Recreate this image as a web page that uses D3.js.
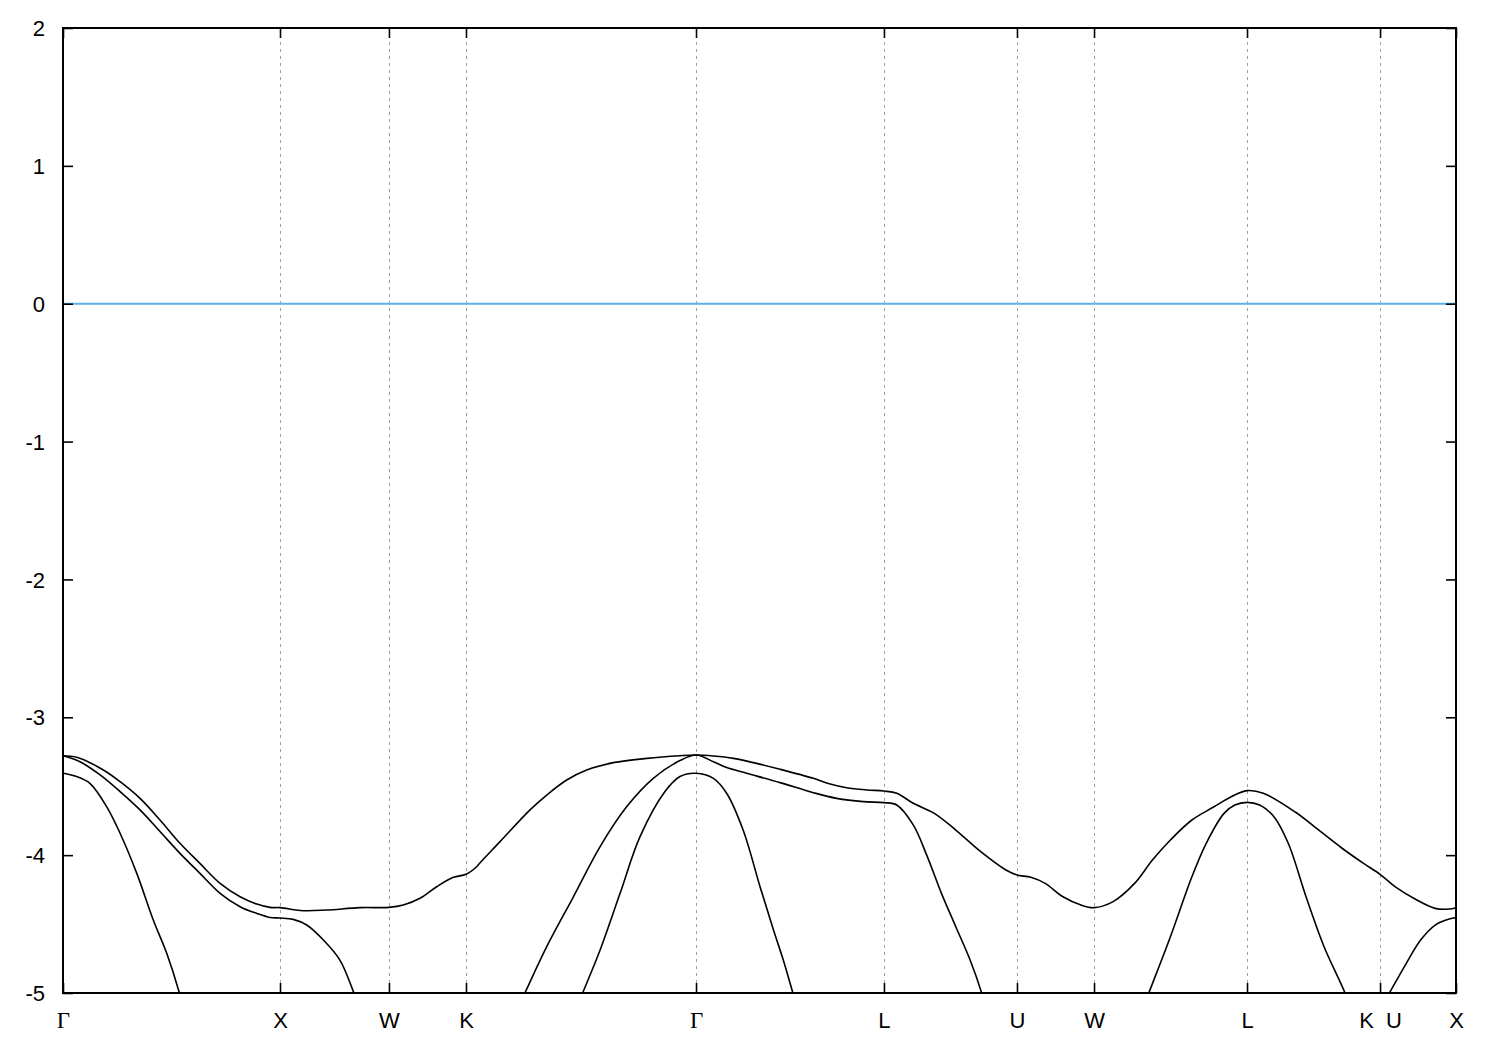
<!DOCTYPE html>
<html>
<head>
<meta charset="utf-8">
<script src="https://cdn.jsdelivr.net/npm/d3@7"></script>
<style>
html,body{margin:0;padding:0;background:#fff;}
svg{display:block;}
</style>
</head>
<body>
<svg id="chart" width="1500" height="1050"></svg>
<script>
// High-symmetry points along the k-path (K|U share one position)
const kLabels = ["Γ","X","W","K","Γ","L","U","W","L","K  U","X"];
const kPositions = [0, 1.0, 1.502, 1.857, 2.917, 3.783, 4.396, 4.751, 5.456, 6.069, 6.419];
const yTicks = [-5,-4,-3,-2,-1,0,1,2];
const fermiLevel = 0;

// Band energies (eV) as [k, E]
const band1 = [[0,-3.279],[0.063,-3.290],[0.186,-3.382],[0.263,-3.467],[0.355,-3.588],[0.447,-3.745],[0.539,-3.914],[0.631,-4.060],[0.724,-4.205],[0.816,-4.302],[0.893,-4.355],[0.954,-4.379],[1.0,-4.381],[1.107,-4.403],[1.215,-4.398],[1.369,-4.381],[1.502,-4.379],[1.568,-4.362],[1.645,-4.313],[1.722,-4.229],[1.799,-4.161],[1.857,-4.139],[1.906,-4.084],[1.922,-4.055],[2.014,-3.902],[2.152,-3.672],[2.229,-3.564],[2.321,-3.455],[2.413,-3.382],[2.536,-3.329],[2.690,-3.298],[2.843,-3.279],[2.917,-3.274],[2.997,-3.281],[3.089,-3.298],[3.181,-3.329],[3.304,-3.377],[3.458,-3.443],[3.535,-3.484],[3.611,-3.511],[3.704,-3.527],[3.783,-3.535],[3.842,-3.551],[3.918,-3.624],[4.015,-3.697],[4.114,-3.818],[4.229,-3.975],[4.345,-4.108],[4.396,-4.144],[4.460,-4.161],[4.526,-4.205],[4.608,-4.302],[4.691,-4.362],[4.751,-4.381],[4.839,-4.337],[4.938,-4.205],[5.020,-4.036],[5.103,-3.890],[5.202,-3.745],[5.300,-3.653],[5.383,-3.576],[5.456,-3.532],[5.531,-3.551],[5.680,-3.689],[5.762,-3.788],[5.894,-3.950],[5.993,-4.060],[6.069,-4.139],[6.138,-4.229],[6.224,-4.313],[6.323,-4.386],[6.388,-4.391],[6.419,-4.381]];

const band2a = [[0,-3.279],[0.078,-3.322],[0.171,-3.418],[0.263,-3.539],[0.355,-3.672],[0.447,-3.829],[0.539,-3.987],[0.631,-4.132],[0.724,-4.277],[0.816,-4.374],[0.893,-4.423],[0.954,-4.452],[1.0,-4.456],[1.061,-4.466],[1.123,-4.507],[1.200,-4.616],[1.276,-4.761],[1.338,-4.990],[1.375,-5.15]];

const band2b = [[2.084,-5.15],[2.129,-4.998],[2.229,-4.664],[2.352,-4.302],[2.475,-3.938],[2.598,-3.648],[2.720,-3.443],[2.843,-3.314],[2.917,-3.274],[2.997,-3.322],[3.058,-3.365],[3.150,-3.406],[3.304,-3.474],[3.458,-3.547],[3.565,-3.588],[3.688,-3.612],[3.783,-3.619],[3.842,-3.636],[3.918,-3.781],[3.980,-4.000],[4.048,-4.277],[4.114,-4.519],[4.180,-4.761],[4.233,-4.998],[4.26,-5.15]];

const band2c = [[4.967,-5.15],[5.004,-4.998],[5.103,-4.592],[5.202,-4.157],[5.268,-3.914],[5.350,-3.697],[5.400,-3.636],[5.456,-3.617],[5.514,-3.636],[5.580,-3.721],[5.646,-3.914],[5.728,-4.302],[5.811,-4.664],[5.907,-4.998],[5.94,-5.15]];

const band2d = [[6.069,-5.12],[6.113,-4.998],[6.190,-4.785],[6.256,-4.616],[6.323,-4.507],[6.388,-4.463],[6.419,-4.453]];

const band3a = [[0,-3.406],[0.063,-3.430],[0.124,-3.479],[0.201,-3.648],[0.263,-3.841],[0.340,-4.132],[0.416,-4.470],[0.478,-4.712],[0.536,-4.998],[0.56,-5.15]];

const band3b = [[2.356,-5.15],[2.395,-4.998],[2.475,-4.688],[2.567,-4.277],[2.659,-3.866],[2.774,-3.539],[2.843,-3.430],[2.917,-3.406],[2.997,-3.443],[3.058,-3.551],[3.134,-3.818],[3.212,-4.229],[3.274,-4.543],[3.319,-4.761],[3.363,-4.998],[3.391,-5.15]];

const bands = [band1, band2a, band2b, band2c, band2d, band3a, band3b];

const svg = d3.select("#chart");
const L = 63, R = 1456, T = 28, B = 993;

const x = d3.scaleLinear().domain([kPositions[0], kPositions[kPositions.length-1]]).range([L, R]);
const y = d3.scaleLinear().domain([-5, 2]).range([B, T]);

svg.append("defs").append("clipPath").attr("id","clip")
  .append("rect").attr("x",L).attr("y",T).attr("width",R-L).attr("height",B-T);

// vertical dashed grid lines at internal high-symmetry points
svg.append("g").selectAll("line")
  .data(kPositions.slice(1, kPositions.length-1))
  .join("line")
  .attr("x1", d => Math.round(x(d)) + 0.5).attr("x2", d => Math.round(x(d)) + 0.5)
  .attr("y1", T).attr("y2", B)
  .attr("stroke", "#a0a0a0").attr("stroke-width", 1)
  .attr("stroke-dasharray", "3,4");

// Fermi level
svg.append("line")
  .attr("x1", L).attr("x2", R)
  .attr("y1", y(fermiLevel)).attr("y2", y(fermiLevel))
  .attr("stroke", "#56b4e9").attr("stroke-width", 2);

// bands
const line = d3.line().x(d => x(d[0])).y(d => y(d[1])).curve(d3.curveCatmullRom.alpha(0.5));
svg.append("g").attr("clip-path","url(#clip)")
  .selectAll("path").data(bands).join("path")
  .attr("d", line)
  .attr("fill","none").attr("stroke","#000").attr("stroke-width",1.6)
  .attr("stroke-linejoin","round");

// axes
const font = "'Liberation Sans', Arial, sans-serif";
const yAxisL = svg.append("g").attr("transform", `translate(${L},0)`)
  .call(d3.axisLeft(y).tickValues(yTicks).tickSize(-10).tickPadding(18).tickFormat(d => String(d)));
const yAxisR = svg.append("g").attr("transform", `translate(${R},0)`)
  .call(d3.axisRight(y).tickValues(yTicks).tickSize(-10).tickFormat(""));
const xAxisB = svg.append("g").attr("transform", `translate(0,${B})`)
  .call(d3.axisBottom(x).tickValues(kPositions).tickSize(-10).tickPadding(19).tickFormat((d,i) => kLabels[i]));
const xAxisT = svg.append("g").attr("transform", `translate(0,${T})`)
  .call(d3.axisTop(x).tickValues(kPositions).tickSize(-10).tickFormat(""));

[yAxisL, yAxisR, xAxisB, xAxisT].forEach(g => {
  g.select(".domain").remove();
  g.selectAll(".tick line").attr("stroke","#000").attr("stroke-width",1.6);
  g.selectAll("text").attr("fill","#000").style("font-family", font).style("font-size","22px");
});
yAxisL.selectAll("text").attr("dy","0.35em");
xAxisB.selectAll("text")
  .attr("xml:space","preserve")
  .style("white-space","pre")
  .style("font-family", (d,i) => kLabels[i] === "Γ" ? "'Liberation Serif', 'Times New Roman', serif" : font)
  .style("font-size", (d,i) => kLabels[i] === "Γ" ? "23px" : "22px");

// frame
svg.append("rect").attr("x",L).attr("y",T).attr("width",R-L).attr("height",B-T)
  .attr("fill","none").attr("stroke","#000").attr("stroke-width",2);
</script>
</body>
</html>
